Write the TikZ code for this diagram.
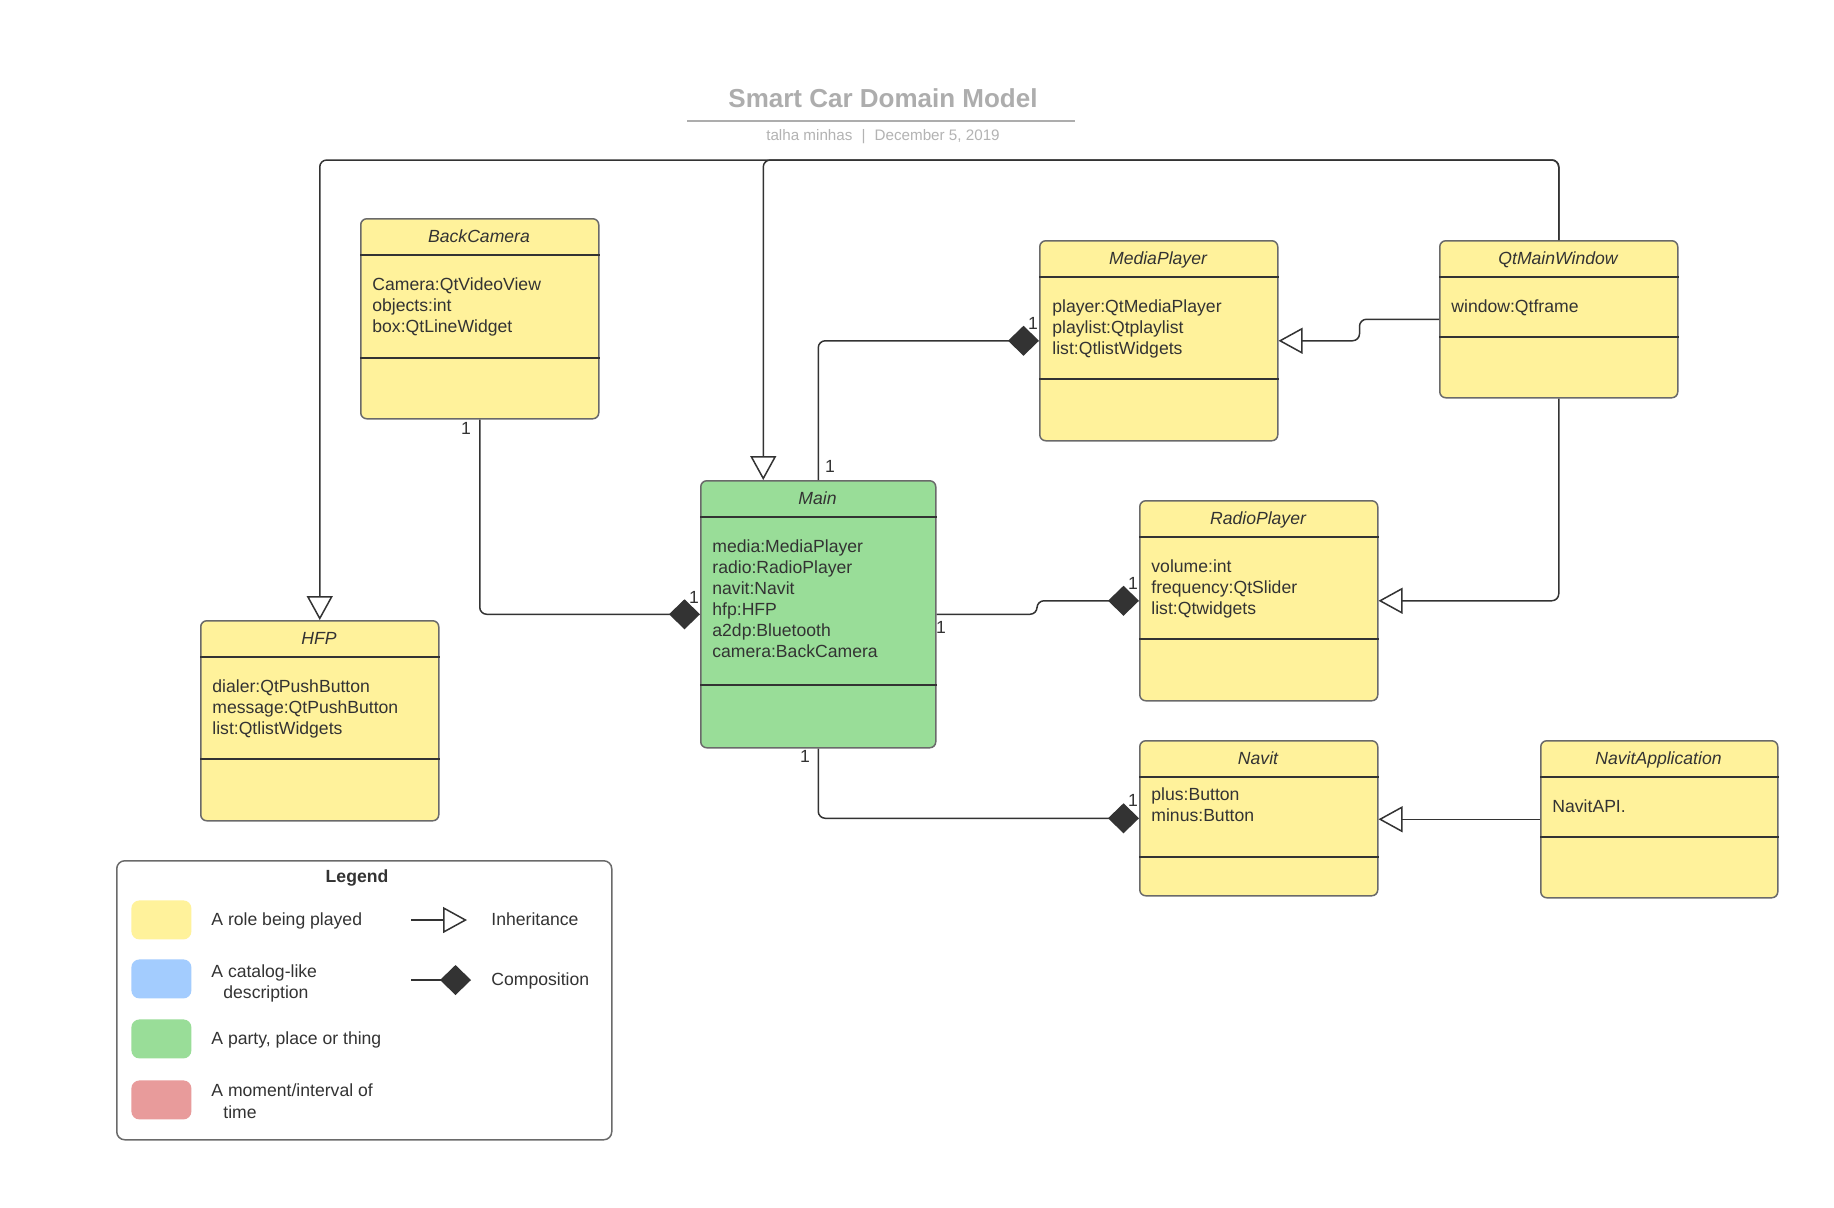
\documentclass[tikz,border=0pt]{standalone}
\usepackage{fontspec}
\setmainfont{Liberation Sans}
\usetikzlibrary{arrows.meta,calc}
\definecolor{ink}{HTML}{333333}
\definecolor{boxline}{HTML}{6A6A6A}
\definecolor{roleY}{HTML}{FFF29B}
\definecolor{partyG}{HTML}{99DD98}
\definecolor{catB}{HTML}{A3CCFE}
\definecolor{momR}{HTML}{E89B9B}
\definecolor{titleG}{HTML}{ADADAD}
\definecolor{subG}{HTML}{B3B3B3}
\newcommand\umlfont{\fontsize{8.8pt}{10.5pt}\selectfont}
\begin{document}
\begin{tikzpicture}[x=0.5pt,y=-0.5pt,
  classbox/.style={draw=boxline, line width=0.75pt, rounded corners=3pt, anchor=north west, inner sep=0pt, fill=roleY},
  divider/.style={draw=ink, line width=0.6pt},
  ctitle/.style={font=\umlfont\itshape, text=ink, anchor=base, inner sep=0pt},
  attr/.style={font=\umlfont, text=ink, anchor=base west, align=left, inner sep=0pt},
  mult/.style={font=\umlfont, text=ink, inner sep=0pt},
  conn/.style={draw=ink, line width=0.75pt, rounded corners=3.5pt},
  comp/.style={conn, -{Diamond[length=15.5pt,width=15pt,fill=ink]}},
  inh/.style={conn, -{Triangle[length=12pt,width=13pt,fill=white]}},
  swatch/.style={anchor=north west, minimum width=30pt, minimum height=19.5pt, rounded corners=4pt, inner sep=0pt},
  legtext/.style={font=\umlfont, text=ink, anchor=base west, inner sep=0pt}
]
\path[use as bounding box, fill=white] (0,0) rectangle (1834,1207);

% title
\node[font=\fontsize{13pt}{15pt}\selectfont\bfseries, text=titleG, anchor=base, inner sep=0pt] (title) at (883,107) {Smart Car Domain Model};
\coordinate (ulA) at (687,121);
\coordinate (ulB) at (1075,121);
\draw[titleG, line width=1pt] (ulA) -- (ulB);
\node[font=\fontsize{7.6pt}{9pt}\selectfont, text=subG, anchor=base, inner sep=0pt] (subtitle) at (883,140) {talha minhas\hspace{0.6em}|\hspace{0.6em}December 5, 2019};

% BackCamera
\node[classbox, minimum width=119pt, minimum height=100pt] (bc) at (360,218) {};
\draw[divider] ([yshift=-18.5pt]bc.north west) -- ([yshift=-18.5pt]bc.north east);
\draw[divider] ([yshift=-70pt]bc.north west) -- ([yshift=-70pt]bc.north east);
\node[ctitle] (bcT) at (479,242) {BackCamera};
\node[attr] (bcA) at (372,332) {Camera:QtVideoView\\objects:int\\box:QtLineWidget};

% MediaPlayer
\node[classbox, minimum width=119pt, minimum height=100pt] (mp) at (1039,240) {};
\draw[divider] ([yshift=-18.5pt]mp.north west) -- ([yshift=-18.5pt]mp.north east);
\draw[divider] ([yshift=-69.5pt]mp.north west) -- ([yshift=-69.5pt]mp.north east);
\node[ctitle] (mpT) at (1158,264) {MediaPlayer};
\node[attr] (mpA) at (1052,354) {player:QtMediaPlayer\\playlist:Qtplaylist\\list:QtlistWidgets};

% QtMainWindow
\node[classbox, minimum width=119pt, minimum height=78.5pt] (qt) at (1439,240) {};
\draw[divider] ([yshift=-18.5pt]qt.north west) -- ([yshift=-18.5pt]qt.north east);
\draw[divider] ([yshift=-48.5pt]qt.north west) -- ([yshift=-48.5pt]qt.north east);
\node[ctitle] (qtT) at (1558,264) {QtMainWindow};
\node[attr] (qtA) at (1451,312) {window:Qtframe};

% Main
\node[classbox, fill=partyG, minimum width=117.5pt, minimum height=133.5pt] (main) at (700,480) {};
\draw[divider] ([yshift=-18.5pt]main.north west) -- ([yshift=-18.5pt]main.north east);
\draw[divider] ([yshift=-102.5pt]main.north west) -- ([yshift=-102.5pt]main.north east);
\node[ctitle] (mainT) at (817.5,504) {Main};
\node[attr] (mainA) at (712,657) {media:MediaPlayer\\radio:RadioPlayer\\navit:Navit\\hfp:HFP\\a2dp:Bluetooth\\camera:BackCamera};

% RadioPlayer
\node[classbox, minimum width=119pt, minimum height=100pt] (rp) at (1139,500) {};
\draw[divider] ([yshift=-18.5pt]rp.north west) -- ([yshift=-18.5pt]rp.north east);
\draw[divider] ([yshift=-69.5pt]rp.north west) -- ([yshift=-69.5pt]rp.north east);
\node[ctitle] (rpT) at (1258,524) {RadioPlayer};
\node[attr] (rpA) at (1151,614) {volume:int\\frequency:QtSlider\\list:Qtwidgets};

% HFP
\node[classbox, minimum width=119pt, minimum height=100pt] (hfp) at (200,620) {};
\draw[divider] ([yshift=-18.5pt]hfp.north west) -- ([yshift=-18.5pt]hfp.north east);
\draw[divider] ([yshift=-69.5pt]hfp.north west) -- ([yshift=-69.5pt]hfp.north east);
\node[ctitle] (hfpT) at (319,644) {HFP};
\node[attr] (hfpA) at (212,734) {dialer:QtPushButton\\message:QtPushButton\\list:QtlistWidgets};

% Navit
\node[classbox, minimum width=119pt, minimum height=77.5pt] (navit) at (1139,740) {};
\draw[divider] ([yshift=-18.5pt]navit.north west) -- ([yshift=-18.5pt]navit.north east);
\draw[divider] ([yshift=-58.5pt]navit.north west) -- ([yshift=-58.5pt]navit.north east);
\node[ctitle] (navitT) at (1258,764) {Navit};
\node[attr] (navitA) at (1151,821) {plus:Button\\minus:Button};

% NavitApplication
\node[classbox, minimum width=118.5pt, minimum height=78.5pt] (na) at (1540,740) {};
\draw[divider] ([yshift=-18.5pt]na.north west) -- ([yshift=-18.5pt]na.north east);
\draw[divider] ([yshift=-48.5pt]na.north west) -- ([yshift=-48.5pt]na.north east);
\node[ctitle] (naT) at (1658.5,764) {NavitApplication};
\node[attr] (naA) at (1552,812) {NavitAPI.};

% connectors
\draw[comp] (bc.south) |- (main.west);
\draw[comp] (main.north) |- (mp.west);
\draw[comp] (main.east) -| ([xshift=-51pt]rp.west) -- (rp.west);
\draw[comp] (main.south) |- (navit.west);
\draw[inh] (na.west) -- (na.west -| navit.east);
\draw[inh] (qt.south) |- (rp.east);
\draw[inh] (qt.west) -| ([xshift=40.5pt]mp.east) -- (mp.east);
\draw[inh] (qt.north) -- ++(0,-80) -| ([xshift=-27.5pt]main.north);
\draw[inh] (qt.north) -- ++(0,-80) -| (hfp.north);

% multiplicities
\node[mult] (m1) at (466,428) {1};
\node[mult] (m2) at (694,597) {1};
\node[mult] (m3) at (830,466) {1};
\node[mult] (m4) at (1033,323) {1};
\node[mult] (m5) at (941,627) {1};
\node[mult] (m6) at (1133,583) {1};
\node[mult] (m7) at (805,756) {1};
\node[mult] (m8) at (1133,800) {1};

% legend
\node[draw=boxline, line width=0.75pt, rounded corners=4pt, anchor=north west, inner sep=0pt, minimum width=247.5pt, minimum height=139.5pt] (legend) at (116,860) {};
\node[font=\umlfont\bfseries, text=ink, anchor=base, inner sep=0pt] (legT) at (357,882) {Legend};
\node[swatch, fill=roleY] (sw1) at (131,900) {};
\node[swatch, fill=catB] (sw2) at (131,959) {};
\node[swatch, fill=partyG] (sw3) at (131,1019) {};
\node[swatch, fill=momR] (sw4) at (131,1080) {};
\node[legtext] (lt1) at (211,925) {A role being played};
\node[legtext] (lt2) at (211,977) {A catalog-like};
\node[legtext] (lt2b) at (223,998) {description};
\node[legtext] (lt3) at (211,1044) {A party, place or thing};
\node[legtext] (lt4) at (211,1096) {A moment/interval of};
\node[legtext] (lt4b) at (223,1118) {time};
\coordinate (liA) at (411,920);
\coordinate (liB) at (467,920);
\draw[inh] (liA) -- (liB);
\coordinate (lcA) at (411,980);
\coordinate (lcB) at (471,980);
\draw[comp] (lcA) -- (lcB);
\node[legtext] (lt5) at (491,925) {Inheritance};
\node[legtext] (lt6) at (491,985) {Composition};
\end{tikzpicture}
\end{document}
